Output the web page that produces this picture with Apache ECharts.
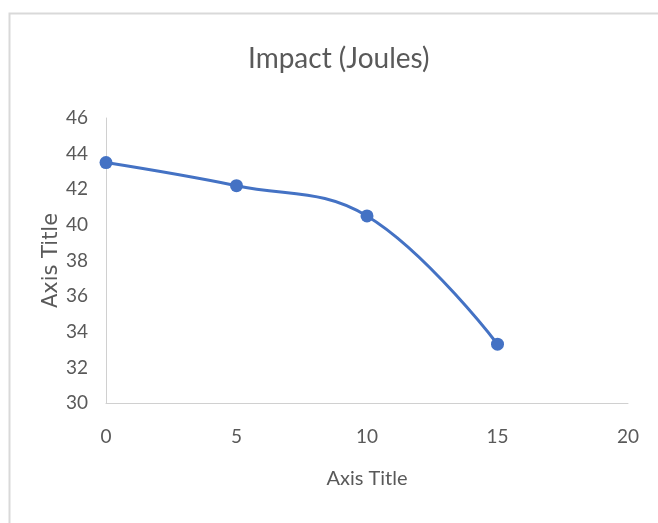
<!DOCTYPE html>
<html>
<head>
<meta charset="utf-8">
<script src="https://cdn.jsdelivr.net/npm/echarts@6/dist/echarts.min.js"></script>
<style>
  html, body { margin: 0; padding: 0; background: #fff; }
  #chart { width: 658px; height: 523px; }
</style>
</head>
<body>
<div id="chart"></div>
<script>
// Impact energy readings
const xValues = [0, 5, 10, 15];
const impactJoules = [43.5, 42.2, 40.5, 33.3];

const labelFont = 'Lato, "Open Sans", sans-serif';
const textGray = '#595959';

const chart = echarts.init(document.getElementById('chart'));
chart.setOption({
  animation: false,
  backgroundColor: '#fff',
  title: {
    text: 'Impact (Joules)',
    left: 243,
    top: 40,
    textStyle: { fontFamily: labelFont, fontSize: 28, fontWeight: 'normal', color: textGray }
  },
  graphic: [
    // chart frame (top and left edges visible)
    { type: 'rect', left: 7, top: 11, shape: { width: 700, height: 600 },
      style: { fill: 'none', stroke: '#d9d9d9', lineWidth: 2 }, silent: true }
  ],
  grid: { left: 106, right: 30, top: 118, bottom: 120 },
  xAxis: {
    type: 'value',
    min: 0, max: 20, interval: 5,
    name: 'Axis Title',
    nameLocation: 'middle',
    nameGap: 66,
    nameTextStyle: { fontFamily: labelFont, fontSize: 20, color: textGray },
    axisLine: { show: true, lineStyle: { color: '#d0d0d0', width: 1 } },
    axisTick: { show: false },
    splitLine: { show: false },
    axisLabel: { fontFamily: labelFont, fontSize: 19, color: textGray, margin: 24 }
  },
  yAxis: {
    type: 'value',
    min: 30, max: 46, interval: 2,
    name: 'Axis Title',
    nameLocation: 'middle',
    nameMoveOverlap: false,
    nameGap: 44,
    nameRotate: 90,
    nameTextStyle: { fontFamily: '"DejaVu Sans", sans-serif', fontSize: 21, color: textGray },
    axisLine: { show: true, lineStyle: { color: '#d0d0d0', width: 1 } },
    axisTick: { show: false },
    splitLine: { show: false },
    axisLabel: { fontFamily: labelFont, fontSize: 19, color: textGray, margin: 18 }
  },
  series: [{
    type: 'line',
    data: xValues.map((x, i) => [x, impactJoules[i]]),
    smooth: 0.4,
    symbol: 'circle',
    symbolSize: 13,
    lineStyle: { color: '#4472C4', width: 3 },
    itemStyle: { color: '#4472C4' }
  }]
});
</script>
</body>
</html>
